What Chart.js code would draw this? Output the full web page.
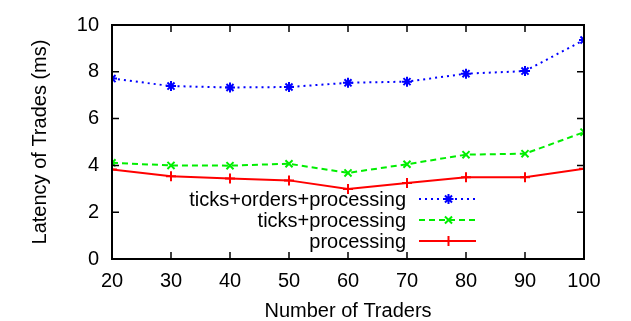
<!DOCTYPE html>
<html>
<head>
<meta charset="utf-8">
<script src="https://cdn.jsdelivr.net/npm/chart.js@4"></script>
<style>
  html, body { margin: 0; padding: 0; background: #fff; }
  #wrap { width: 631px; height: 321px; }
</style>
</head>
<body>
<div id="wrap"><canvas id="chart"></canvas></div>
<script>
// data
const traders = [20, 30, 40, 50, 60, 70, 80, 90, 100];
const ticksOrdersProcessing = [7.71, 7.39, 7.33, 7.35, 7.53, 7.58, 7.92, 8.03, 9.36];
const ticksProcessing = [4.11, 4.00, 3.99, 4.07, 3.68, 4.05, 4.46, 4.50, 5.42];
const processing = [3.83, 3.54, 3.44, 3.36, 2.99, 3.25, 3.49, 3.49, 3.86];
const seriesLabels = ['ticks+orders+processing', 'ticks+processing', 'processing'];

const FONT = 'Liberation Sans, Arial, Helvetica, sans-serif';

function pts(values) {
    return traders.map((t, i) => ({ x: t, y: values[i] }));
}

// frame + inward ticks on all sides (gnuplot style)
const framePlugin = {
    id: 'frame',
    afterDraw(chart) {
        const ctx = chart.ctx;
        const a = chart.chartArea;
        const xs = chart.scales.x;
        const ys = chart.scales.y;
        const len = 7;
        ctx.save();
        ctx.strokeStyle = '#000';
        ctx.lineWidth = 1.5;
        ctx.beginPath();
        xs.ticks.forEach(t => {
            const px = xs.getPixelForValue(t.value);
            ctx.moveTo(px, a.bottom); ctx.lineTo(px, a.bottom - len);
            ctx.moveTo(px, a.top); ctx.lineTo(px, a.top + len);
        });
        ys.ticks.forEach(t => {
            const py = ys.getPixelForValue(t.value);
            ctx.moveTo(a.left, py); ctx.lineTo(a.left + len, py);
            ctx.moveTo(a.right, py); ctx.lineTo(a.right - len, py);
        });
        ctx.stroke();
        ctx.lineWidth = 2;
        ctx.strokeRect(a.left, a.top, a.right - a.left, a.bottom - a.top);
        ctx.restore();
    }
};

// legend inside the plot, text right-aligned, sample on the right
const keyPlugin = {
    id: 'key',
    afterDraw(chart) {
        const ctx = chart.ctx;
        const textRight = 406;
        const lineStart = 419;
        const lineEnd = 476;
        const rows = [199, 220, 241];
        ctx.save();
        ctx.font = '20px ' + FONT;
        ctx.textAlign = 'right';
        ctx.textBaseline = 'middle';
        chart.data.datasets.forEach((ds, i) => {
            const y = rows[i];
            ctx.fillStyle = '#000';
            ctx.fillText(ds.label, textRight, y + 1);
            ctx.strokeStyle = ds.borderColor;
            ctx.lineWidth = ds.borderWidth;
            ctx.setLineDash(ds.borderDash || []);
            ctx.beginPath();
            ctx.moveTo(lineStart, y);
            ctx.lineTo(lineEnd, y);
            ctx.stroke();
            ctx.setLineDash([]);
            Chart.helpers.drawPoint(ctx, {
                pointStyle: ds.pointStyle,
                radius: ds.pointRadius,
                borderWidth: ds.pointBorderWidth,
                rotation: 0
            }, (lineStart + lineEnd) / 2 + 1, y);
        });
        ctx.restore();
    }
};

new Chart(document.getElementById('chart'), {
    type: 'line',
    data: {
        datasets: [
            {
                label: seriesLabels[0],
                data: pts(ticksOrdersProcessing),
                borderColor: '#0000ff',
                backgroundColor: '#0000ff',
                borderWidth: 2,
                borderDash: [2, 4],
                pointStyle: 'star',
                pointRadius: 5,
                pointBorderWidth: 2,
                pointBorderColor: '#0000ff'
            },
            {
                label: seriesLabels[1],
                data: pts(ticksProcessing),
                borderColor: '#00ee00',
                backgroundColor: '#00ee00',
                borderWidth: 2,
                borderDash: [6, 4],
                pointStyle: 'crossRot',
                pointRadius: 5,
                pointBorderWidth: 2,
                pointBorderColor: '#00ee00'
            },
            {
                label: seriesLabels[2],
                data: pts(processing),
                borderColor: '#ff0000',
                backgroundColor: '#ff0000',
                borderWidth: 2,
                pointStyle: 'cross',
                pointRadius: 5,
                pointBorderWidth: 2,
                pointBorderColor: '#ff0000'
            }
        ]
    },
    options: {
        responsive: true,
        maintainAspectRatio: false,
        animation: false,
        layout: { padding: { top: 19, right: 47, left: 0, bottom: 0 } },
        plugins: {
            legend: { display: false },
            tooltip: { enabled: false }
        },
        scales: {
            x: {
                type: 'linear',
                min: 20,
                max: 100,
                afterFit(scale) { scale.height = 62; },
                grid: { display: false, drawTicks: false },
                border: { display: false },
                ticks: {
                    stepSize: 10,
                    padding: 10,
                    color: '#000',
                    maxRotation: 0,
                    font: { family: FONT, size: 20 }
                },
                title: {
                    display: true,
                    text: 'Number of Traders',
                    color: '#000',
                    padding: 0,
                    font: { family: FONT, size: 20, lineHeight: 1 }
                }
            },
            y: {
                min: 0,
                max: 10,
                afterFit(scale) { scale.width = 112; },
                grid: { display: false, drawTicks: false },
                border: { display: false },
                ticks: {
                    stepSize: 2,
                    padding: 13,
                    color: '#000',
                    font: { family: FONT, size: 20 }
                },
                title: {
                    display: true,
                    text: 'Latency of Trades (ms)',
                    color: '#000',
                    padding: { top: 30, bottom: 0 },
                    font: { family: FONT, size: 20, lineHeight: 1 }
                }
            }
        }
    },
    plugins: [framePlugin, keyPlugin]
});
</script>
</body>
</html>
